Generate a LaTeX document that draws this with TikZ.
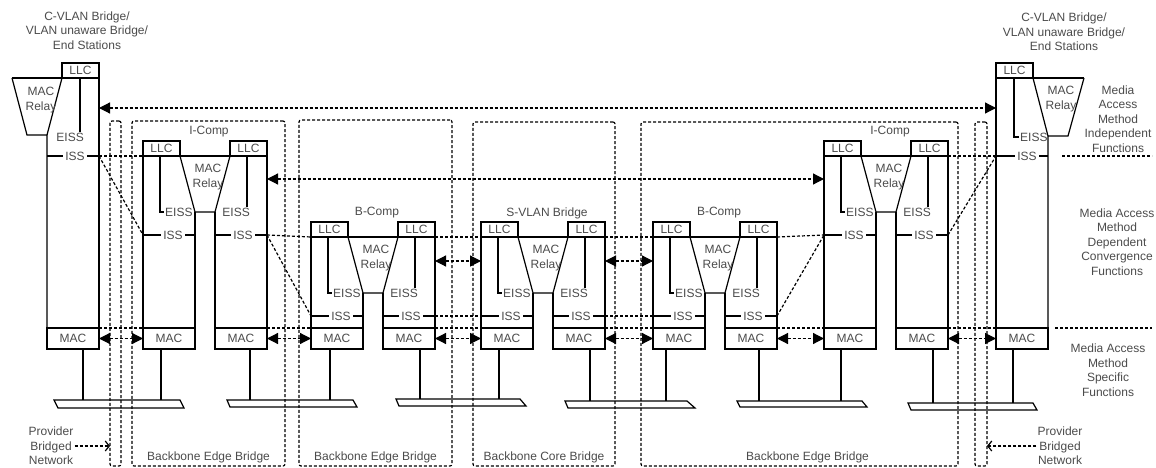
\documentclass[tikz,border=0pt]{standalone}
\usepackage{fontspec}
\setmainfont{Liberation Sans}
\usepackage{tikz}
\usetikzlibrary{arrows.meta,positioning}
\definecolor{pbText}{RGB}{75,75,75}

% one two-port component: name, left x, y of LLC bottom, title
\newcommand\bridgecomp[4]{%
  \node[lbl] (#1-t) at ({#2+66},{#3-24}) {#4};
  \node[llcbox] (#1-ll) at ({#2+18.5},{#3-7.5}) {LLC};
  \node[llcbox] (#1-lr) at ({#2+105.5},{#3-7.5}) {LLC};
  \node[macbox] (#1-ml) at ({#2+26},338.5) {MAC};
  \node[macbox] (#1-mr) at ({#2+98},338.5) {MAC};
  \draw[sline] (#1-ll.south west) -- (#1-lr.south east);
  \draw[sline] (#1-ll.south west) -- (#1-ml.north west);
  \draw[sline] (#1-lr.south east) -- (#1-mr.north east);
  \draw[sline] (#1-ll.south east) -- ({#2+52},{#3+56}) -- ({#2+72},{#3+56}) -- (#1-lr.south west);
  \draw[sline] ({#2+52},{#3+56}) -- (#1-ml.north east);
  \draw[sline] ({#2+72},{#3+56}) -- (#1-mr.north west);
  \node[lbl] (#1-relay) at ({#2+65},{#3+21}) {MAC\\Relay};
  \node[lbl,anchor=west] (#1-el) at ({#2+21},{#3+56}) {EISS};
  \draw[sline] ({#2+17},#3) |- (#1-el.west);
  \node[lbl,anchor=east] (#1-er) at ({#2+108},{#3+56}) {EISS};
  \draw[sline] ({#2+104},#3) -- ({#2+104},{#3+51});
  \coordinate (#1-isl) at (#2,{#3+79});
  \coordinate (#1-isr) at ({#2+124},{#3+79});
  \draw[sline] (#1-isl) -- ++(52,0);
  \draw[sline] (#1-isr) -- ++(-52,0);
  \node[isslbl] (#1-iss1) at ({#2+30},{#3+79}) {ISS};
  \node[isslbl] (#1-iss2) at ({#2+100},{#3+79}) {ISS};
}

\begin{document}
\begin{tikzpicture}[x=1pt,y=-1pt,
  every node/.style={font=\fontsize{12}{14.5}\selectfont,text=pbText},
  lbl/.style={inner sep=1pt,align=center},
  sline/.style={line width=1.2pt,black},
  dline/.style={line width=1.2pt,black,dash pattern=on 3pt off 2pt},
  darr/.style={dline,>={Triangle[length=11pt,width=11pt]},<->},
  parr/.style={dline,-{Straight Barb[length=4pt,width=10pt]}},
  llcbox/.style={draw,line width=1.2pt,minimum width=37pt,minimum height=15pt,
                 inner sep=0pt,outer sep=0pt,fill=white},
  macbox/.style={draw,line width=1.2pt,minimum width=52pt,minimum height=21pt,
                 inner sep=0pt,outer sep=0pt,fill=white},
  isslbl/.style={fill=white,inner xsep=2.5pt,inner ysep=1pt},
  zone/.style={draw,dline,rounded corners=2pt,inner sep=0pt,outer sep=0pt}
]
\useasboundingbox (0,0) rectangle (1156,468);

% dashed bridge regions
\node[zone,minimum width=11pt,minimum height=345pt]  (pbnL) at (115.5,293.5) {};
\node[zone,minimum width=153pt,minimum height=345pt] (bebA) at (208.5,293.5) {};
\node[zone,minimum width=153pt,minimum height=346pt] (bebB) at (375.5,293) {};
\node[zone,minimum width=142pt,minimum height=344pt] (bcb)  at (544,294) {};
\node[zone,minimum width=317pt,minimum height=344pt] (bebC) at (799.5,294) {};
\node[zone,minimum width=12pt,minimum height=344pt]  (pbnR) at (981,294) {};
\node[lbl,above=2pt of bebA.south] (bebA-l) {Backbone Edge Bridge};
\node[lbl,above=2pt of bebB.south] (bebB-l) {Backbone Edge Bridge};
\node[lbl,above=2pt of bcb.south]  (bcb-l)  {Backbone Core Bridge};
\node[lbl,above=2pt of bebC.south,xshift=8pt] (bebC-l) {Backbone Edge Bridge};

% left end station
\node[lbl] (eL-t) at (87,30.5) {C-VLAN Bridge/\\VLAN unaware Bridge/\\End Stations};
\node[llcbox] (eL-llc) at (80.5,70.5) {LLC};
\node[macbox] (eL-mac) at (73,338.5) {MAC};
\draw[sline] (12,78) -- (eL-llc.south east) -- (eL-mac.north east);
\draw[sline] (12,78) -- (27,135) -- (47,135) -- (eL-mac.north west);
\draw[sline] (eL-llc.south west) -- (47,135);
\node[lbl] (eL-relay) at (41,100) {MAC\\Relay};
\node[lbl,anchor=east] (eL-eiss) at (85,137) {EISS};
\draw[sline] (80,78) -- (80,132);
\coordinate (eL-isr) at (99,156);
\draw[sline] (47,156) -- (eL-isr);
\node[isslbl] (eL-iss) at (75,156) {ISS};

% right end station
\node[lbl] (eR-t) at (1064,32) {C-VLAN Bridge/\\VLAN unaware Bridge/\\End Stations};
\node[llcbox] (eR-llc) at (1014.5,70.5) {LLC};
\node[macbox] (eR-mac) at (1022,338.5) {MAC};
\draw[sline] (1084,78) -- (eR-llc.south west) -- (eR-mac.north west);
\draw[sline] (1084,78) -- (1068,136) -- (1048,136) -- (eR-mac.north east);
\draw[sline] (eR-llc.south east) -- (1048,136);
\node[lbl] (eR-relay) at (1061,99) {MAC\\Relay};
\node[lbl,anchor=west] (eR-eiss) at (1019,137) {EISS};
\draw[sline] (1014,78) |- (eR-eiss.west);
\coordinate (eR-isl) at (996,156);
\draw[sline] (eR-isl) -- (1048,156);
\node[isslbl] (eR-iss) at (1027,156) {ISS};

% components
\bridgecomp{iL}{143}{156}{I-Comp}
\bridgecomp{bL}{311}{237}{B-Comp}
\bridgecomp{s}{481}{237}{S-VLAN Bridge}
\bridgecomp{bR}{653}{237}{B-Comp}
\bridgecomp{iR}{824}{156}{I-Comp}

% service level dashed links
\draw[dline] (eL-isr) -- (iL-ll.south west);
\draw[dline] (eL-isr) -- (iL-isl);
\draw[dline] (iR-lr.south east) -- (eR-isl);
\draw[dline] (iR-isr) -- (eR-isl);
\draw[dline] (iL-isr) -- (bL-ll.south west);
\draw[dline] (iL-isr) -- (bL-isl);
\draw[dline] (bL-lr.south east) -- (s-ll.south west);
\draw[dline] (bL-isr) -- (s-isl);
\draw[dline] (s-lr.south east) -- (bR-ll.south west);
\draw[dline] (s-isr) -- (bR-isl);
\draw[dline] (bR-lr.south east) -- (iR-isl);
\draw[dline] (bR-isr) -- (iR-isl);

% MAC level
\draw[dline] (eL-mac.north east) -- (iL-ml.north west);
\draw[dline] (iL-mr.north east) -- (bL-ml.north west);
\draw[dline] (bL-mr.north east) -- (s-ml.north west);
\draw[dline] (s-mr.north east) -- (bR-ml.north west);
\draw[dline] (bR-mr.north east) -- (iR-ml.north west);
\draw[dline] (iR-mr.north east) -- (eR-mac.north west);

% peer arrows
\coordinate (yTop) at (0,108);
\coordinate (yIc) at (0,179);
\coordinate (yBc) at (0,261);
\draw[darr] (eL-llc.east |- yTop) -- (eR-llc.west |- yTop);
\draw[darr] (iL-lr.east |- yIc) -- (iR-ll.west |- yIc);
\draw[darr] (bL-lr.east |- yBc) -- (s-ll.west |- yBc);
\draw[darr] (s-lr.east |- yBc) -- (bR-ll.west |- yBc);
\draw[darr] (eL-mac) -- (iL-ml);
\draw[darr] (iL-mr) -- (bL-ml);
\draw[darr] (bL-mr) -- (s-ml);
\draw[darr] (s-mr) -- (bR-ml);
\draw[darr] (bR-mr) -- (iR-ml);
\draw[darr] (iR-mr) -- (eR-mac);

% LAN segments
\draw[sline] (54,400) -- (180,400) -- (184,408) -- (58,408) -- cycle;
\draw[sline] (227,400) -- (353,400) -- (357,407) -- (230,407) -- cycle;
\draw[sline] (396,399) -- (520,399) -- (526,406) -- (399,406) -- cycle;
\draw[sline] (565,401) -- (687,401) -- (695,408) -- (568,408) -- cycle;
\draw[sline] (737,401) -- (862,401) -- (867,407) -- (740,407) -- cycle;
\draw[sline] (908,403) -- (1033,403) -- (1037,410) -- (911,410) -- cycle;
\draw[sline] ([xshift=10pt]eL-mac.south) -- ++(0,51);
\draw[sline] ([xshift=-8pt]iL-ml.south) -- ++(0,51);
\draw[sline] ([xshift=9pt]iL-mr.south) -- ++(0,51);
\draw[sline] ([xshift=-7pt]bL-ml.south) -- ++(0,51);
\draw[sline] ([xshift=11pt]bL-mr.south) -- ++(0,50);
\draw[sline] ([xshift=-8pt]s-ml.south) -- ++(0,50);
\draw[sline] ([xshift=11pt]s-mr.south) -- ++(0,52);
\draw[sline] ([xshift=-13pt]bR-ml.south) -- ++(0,52);
\draw[sline] ([xshift=8pt]bR-mr.south) -- ++(0,52);
\draw[sline] ([xshift=-9pt]iR-ml.south) -- ++(0,52);
\draw[sline] ([xshift=11pt]iR-mr.south) -- ++(0,54);
\draw[sline] ([xshift=-9pt]eR-mac.south) -- ++(0,54);

% layer names
\node[lbl] (mInd)  at (1118,119) {Media\\Access\\Method\\Independent\\Functions};
\node[lbl] (mDep)  at (1117,242) {Media Access\\Method\\Dependent\\Convergence\\Functions};
\node[lbl] (mSpec) at (1108,370) {Media Access\\Method\\Specific\\Functions};
\draw[dline] (1062,156) -- (1152,156);
\draw[dline] (1055,328) -- (1152,328);

% provider bridged network
\node[lbl] (pbnL-t) at (51,446) {Provider\\Bridged\\Network};
\node[lbl] (pbnR-t) at (1060,446) {Provider\\Bridged\\Network};
\draw[parr] (pbnL-t.east) -- (pbnL.west |- pbnL-t.east);
\draw[parr] (pbnR-t.west) -- (pbnR.east |- pbnR-t.west);
\end{tikzpicture}
\end{document}
